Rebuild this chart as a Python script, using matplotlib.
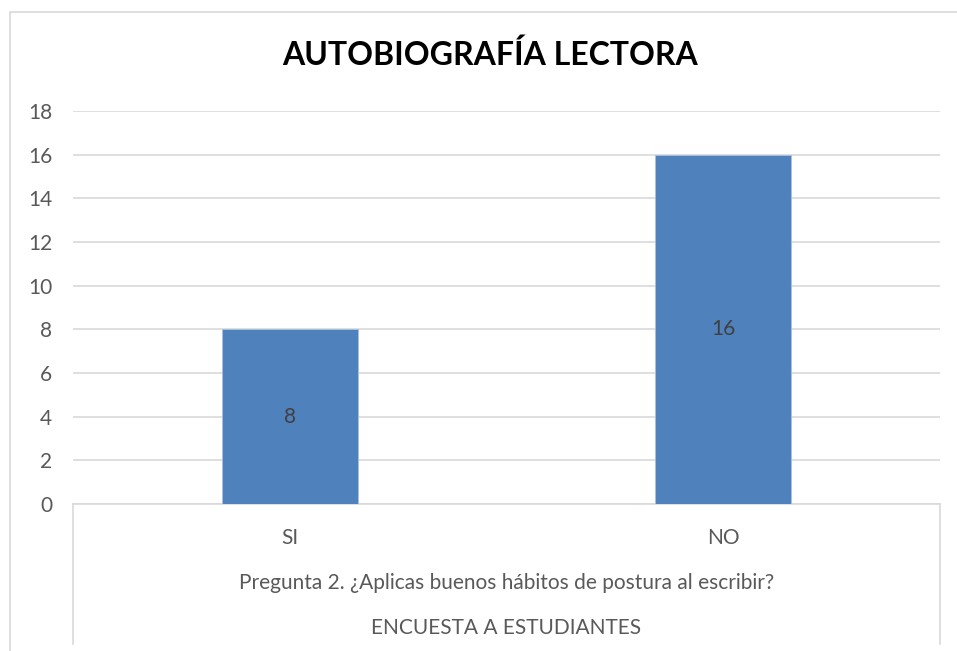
import matplotlib.pyplot as plt
from matplotlib.patches import Rectangle

# data
categories = ["SI", "NO"]
values = [8, 16]
title = "AUTOBIOGRAFÍA LECTORA"
question = "Pregunta 2. ¿Aplicas buenos hábitos de postura al escribir?"
group_label = "ENCUESTA A ESTUDIANTES"
yticks = list(range(0, 20, 2))

W, H = 957, 651
plt.rcParams['font.family'] = ['Lato', 'DejaVu Sans']
fs = 15

fig = plt.figure(figsize=(W / 100, H / 100), dpi=100)
# outer chart border (bottom and right fall outside the picture)
fig.patches.append(Rectangle((10 / W, -0.1), 2, (H - 12) / H + 0.1,
                             transform=fig.transFigure, fill=False,
                             edgecolor='#d9d9d9', linewidth=1.2))

ax = fig.add_axes([73 / W, (H - 504) / H, 867 / W, 393 / H])
x = range(len(categories))
bars = ax.bar(x, values, width=0.314, color='#4f81bd', edgecolor='#a9c1e0',
              linewidth=0.6, zorder=3)
for b, v in zip(bars, values):
    ax.text(b.get_x() + b.get_width() / 2, v / 2, str(v), ha='center',
            va='center', fontsize=fs, color='#404040', zorder=4)

ax.set_xlim(-0.5, len(categories) - 0.5)
ax.set_ylim(0, 18)
ax.set_yticks(yticks)
ax.set_yticklabels([str(t) for t in yticks])
ax.yaxis.grid(True, color='#d9d9d9', linewidth=1.2, zorder=0)
ax.set_axisbelow(True)
for s in ['top', 'right', 'left']:
    ax.spines[s].set_visible(False)
ax.spines['bottom'].set_color('#d9d9d9')
ax.spines['bottom'].set_linewidth(1.2)
ax.tick_params(axis='y', length=0, pad=15, labelsize=fs, labelcolor='#595959')
ax.tick_params(axis='x', length=0, pad=17, labelsize=fs, labelcolor='#595959')
ax.set_xticks(list(x))
ax.set_xticklabels(categories)

# multi-level category axis: side lines and the two outer labels
for xv in (0, 1):
    ax.plot([xv, xv], [0, -0.355], transform=ax.transAxes, clip_on=False,
            color='#d9d9d9', linewidth=1.2)
ax.text(0.5, -79 / 393, question, transform=ax.transAxes, ha='center',
        va='center', fontsize=fs, color='#595959')
ax.text(0.5, -124 / 393, group_label, transform=ax.transAxes, ha='center',
        va='center', fontsize=fs, color='#595959')

fig.text(490 / W, 1 - 55 / H, title, ha='center', va='center',
         fontsize=23, fontweight='bold', color='black')

fig.savefig('out.png', dpi=100)
